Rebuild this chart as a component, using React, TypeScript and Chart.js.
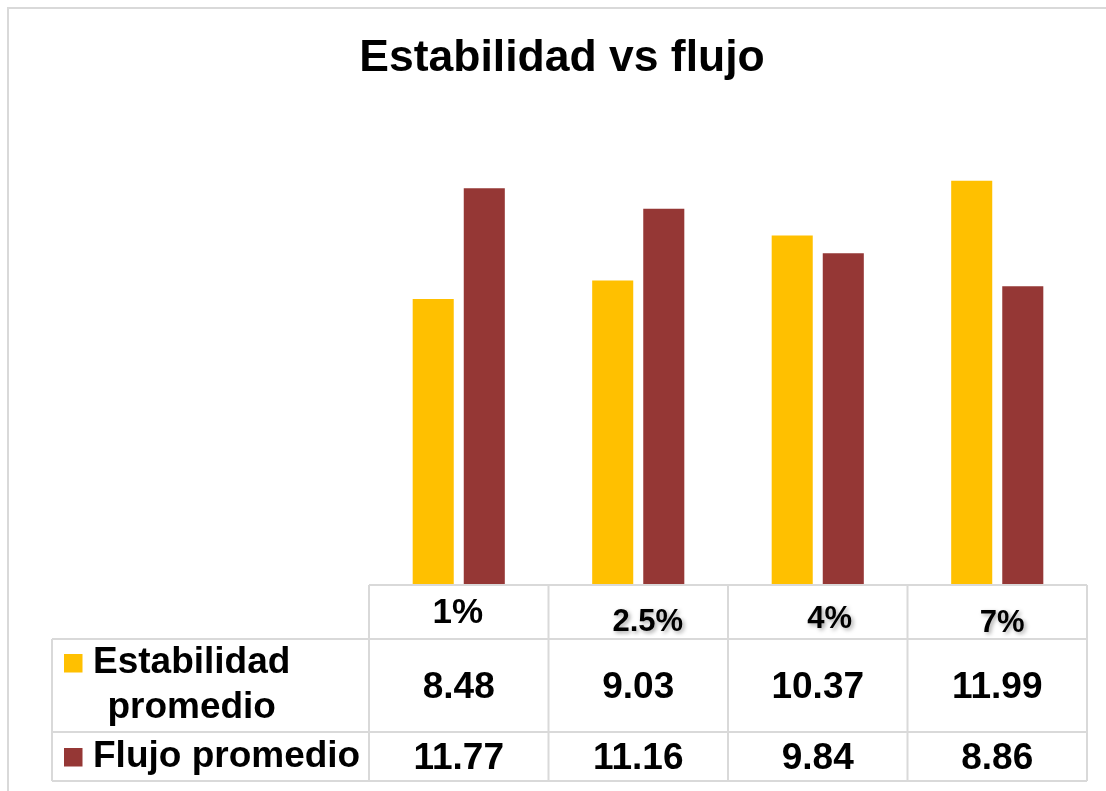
import React, { useEffect, useRef } from "react";
import { Chart, registerables } from "chart.js";

Chart.register(...registerables);

// ---- data ----
const categories = ["1%", "2.5%", "4%", "7%"];
const estabilidad = [8.48, 9.03, 10.37, 11.99];
const flujo = [11.77, 11.16, 9.84, 8.86];
const seriesNames = ["Estabilidad promedio", "Flujo promedio"];
const seriesLabelLines = [["Estabilidad", "promedio"], ["Flujo promedio"]];
const titleText = "Estabilidad vs flujo";
const yMin = 0;
const yMax = 14;

// ---- styles ----
const COLORS = ["#FFC000", "#953735"];
const FONT = '"Liberation Sans", Arial, Helvetica, sans-serif';
const GRID = "#d9d9d9";
// per-label cosmetic nudges of the category labels in the table header
const catLabelSize = [35, 31, 31, 31];
const catLabelDx = [-1, 9.5, 12, 5];
const catLabelCy = [25, 35, 32, 36];
const catLabelShadow = [false, true, true, true];

const tablePlugin = {
  id: "dataTable",
  afterDraw(chart: any) {
    const ctx: CanvasRenderingContext2D = chart.ctx;
    const { left, right, bottom } = chart.chartArea;
    const xs = chart.scales.x;
    const n = categories.length;
    const centers = categories.map((_, i) => xs.getPixelForValue(i));
    const edges: number[] = [left];
    for (let i = 0; i < n - 1; i++) edges.push((centers[i] + centers[i + 1]) / 2);
    edges.push(right);

    const headerTop = bottom;
    const headerBottom = headerTop + 54;
    const row1Bottom = headerBottom + 93;
    const row2Bottom = row1Bottom + 49;
    const tableLeft = 52;

    ctx.save();
    // outer chart frame
    ctx.strokeStyle = GRID;
    ctx.lineWidth = 2;
    ctx.strokeRect(8, 8, 2000, 2000);

    // title
    ctx.fillStyle = "#000";
    ctx.font = `bold 44.5px ${FONT}`;
    ctx.textAlign = "center";
    ctx.textBaseline = "alphabetic";
    ctx.fillText(titleText, 562, 71);

    // grid lines
    ctx.strokeStyle = GRID;
    ctx.lineWidth = 2;
    const hline = (x1: number, x2: number, y: number) => {
      ctx.beginPath();
      ctx.moveTo(x1, y);
      ctx.lineTo(x2, y);
      ctx.stroke();
    };
    const vline = (x: number, y1: number, y2: number) => {
      ctx.beginPath();
      ctx.moveTo(x, y1);
      ctx.lineTo(x, y2);
      ctx.stroke();
    };
    hline(left, right, headerTop);
    hline(tableLeft, right, headerBottom);
    hline(tableLeft, right, row1Bottom);
    hline(tableLeft, right, row2Bottom);
    vline(tableLeft, headerBottom, row2Bottom);
    edges.forEach((x) => vline(x, headerTop, row2Bottom));

    // header category labels
    ctx.fillStyle = "#000";
    ctx.textAlign = "center";
    categories.forEach((c, i) => {
      const size = catLabelSize[i];
      ctx.save();
      ctx.font = `bold ${size}px ${FONT}`;
      if (catLabelShadow[i]) {
        ctx.shadowColor = "rgba(0,0,0,0.35)";
        ctx.shadowBlur = 4;
        ctx.shadowOffsetX = 2;
        ctx.shadowOffsetY = 2;
      }
      const cy = headerTop + catLabelCy[i];
      ctx.fillText(c, centers[i] + catLabelDx[i], cy + size * 0.358);
      ctx.restore();
    });

    // values rows
    const seriesData = [estabilidad, flujo];
    const rowBaselines = [headerBottom + 59, row1Bottom + 37];
    ctx.font = `bold 37px ${FONT}`;
    seriesData.forEach((vals, r) => {
      vals.forEach((v, i) => {
        ctx.fillText(v.toFixed(2), centers[i], rowBaselines[r]);
      });
    });

    // row labels with legend keys
    const labelBaselines = [headerBottom + 34, row1Bottom + 35];
    const textX = 93;
    ctx.font = `bold 37px ${FONT}`;
    ctx.textAlign = "left";
    seriesLabelLines.forEach((lines, r) => {
      const base = labelBaselines[r];
      ctx.fillStyle = COLORS[r];
      ctx.fillRect(64, base - 19, 18.5, 18.5);
      ctx.fillStyle = "#000";
      const widths = lines.map((l) => ctx.measureText(l).width);
      const blockW = Math.max(...widths);
      lines.forEach((l, k) => {
        ctx.fillText(l, textX + (blockW - widths[k]) / 2, base + k * 45);
      });
    });
    ctx.restore();
  },
};

export default function App() {
  const ref = useRef<HTMLCanvasElement | null>(null);
  useEffect(() => {
    if (!ref.current) return;
    const chart = new Chart(ref.current, {
      type: "bar",
      data: {
        labels: categories,
        datasets: [
          {
            label: seriesNames[0],
            data: estabilidad,
            backgroundColor: COLORS[0],
            borderWidth: 0,
            categoryPercentage: 0.569,
            barPercentage: 0.804,
          },
          {
            label: seriesNames[1],
            data: flujo,
            backgroundColor: COLORS[1],
            borderWidth: 0,
            categoryPercentage: 0.569,
            barPercentage: 0.804,
          },
        ],
      },
      options: {
        animation: false,
        responsive: false,
        devicePixelRatio: 1,
        layout: { padding: { left: 369, right: 19, top: 113, bottom: 206 } },
        scales: {
          x: { display: false },
          y: { display: false, min: yMin, max: yMax },
        },
        plugins: {
          legend: { display: false },
          title: { display: false },
          tooltip: { enabled: false },
        },
      },
      plugins: [tablePlugin],
    });
    return () => chart.destroy();
  }, []);
  return (
    <div style={{ position: "fixed", left: 0, top: 0, width: 1106, height: 791, background: "#fff" }}>
      <canvas ref={ref} width={1106} height={791} style={{ display: "block" }} />
    </div>
  );
}
